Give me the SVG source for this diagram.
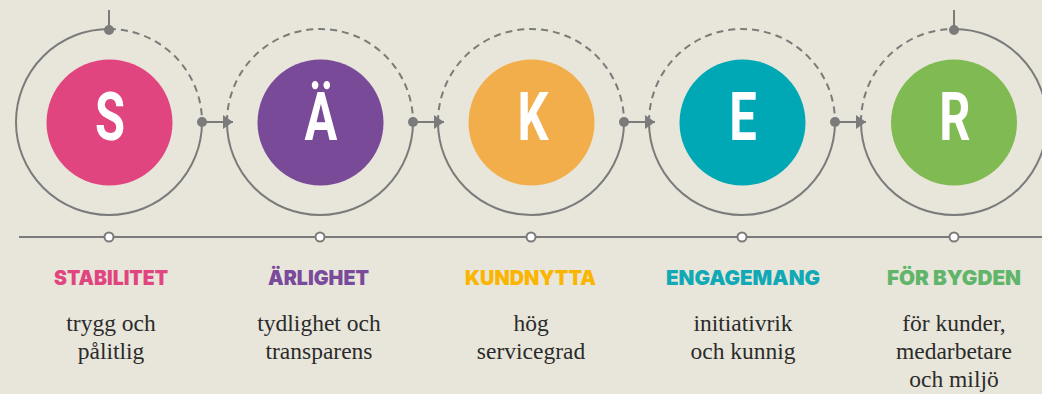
<svg xmlns="http://www.w3.org/2000/svg" width="1042" height="394" viewBox="0 0 1042 394">
<style>
.ring{fill:none;stroke:#7b7b7b;stroke-width:2}
.dash{fill:none;stroke:#7b7b7b;stroke-width:2;stroke-dasharray:7 5}
.dot{fill:#7b7b7b}
.tick{fill:#ffffff;stroke:#7b7b7b;stroke-width:2}
.letter{font-family:Roboto,"Liberation Sans",sans-serif;font-weight:700;font-size:66px;fill:#ffffff;text-anchor:middle}
.title{font-family:Inter,"Liberation Sans",sans-serif;font-weight:900;font-size:20.5px;text-anchor:middle}
.body{font-family:"Liberation Serif",serif;font-size:23.5px;fill:#2b2b2b;text-anchor:middle}
</style>
<defs>
<marker id="arr" viewBox="0 0 10 14" refX="10" refY="7" markerWidth="10" markerHeight="14" markerUnits="userSpaceOnUse" orient="auto"><path d="M0,0 L10,7 L0,14 Z" fill="#7b7b7b"/></marker>
</defs>
<rect width="1042" height="394" fill="#e8e6da"/>
<g id="connectors">
<line x1="109" y1="10" x2="109" y2="29" stroke="#7b7b7b" stroke-width="2"/>
<line x1="954" y1="10" x2="954" y2="29" stroke="#7b7b7b" stroke-width="2"/>
<path class="ring" d="M109,29 A93,93 0 1,0 202,122"/>
<path class="dash" d="M109,29 A93,93 0 0,1 202,122"/>
<path class="dash" d="M227,122 A93,93 0 0,1 413,122"/>
<path class="ring" d="M227,122 A93,93 0 0,0 413,122"/>
<path class="dash" d="M438,122 A93,93 0 0,1 624,122"/>
<path class="ring" d="M438,122 A93,93 0 0,0 624,122"/>
<path class="dash" d="M649,122 A93,93 0 0,1 835,122"/>
<path class="ring" d="M649,122 A93,93 0 0,0 835,122"/>
<path class="dash" d="M861,122 A93,93 0 0,1 954,29"/>
<path class="ring" d="M954,29 A93,93 0 1,1 861,122"/>
<circle class="dot" cx="109" cy="30" r="5"/>
<circle class="dot" cx="954" cy="30" r="5"/>
<g stroke="#7b7b7b" stroke-width="2" marker-end="url(#arr)">
<line x1="202" y1="122" x2="233" y2="122"/>
<line x1="413" y1="122" x2="444" y2="122"/>
<line x1="624" y1="122" x2="655" y2="122"/>
<line x1="835" y1="122" x2="866" y2="122"/>
</g>
<circle class="dot" cx="202" cy="122" r="5"/>
<circle class="dot" cx="413" cy="122" r="5"/>
<circle class="dot" cx="624" cy="122" r="5"/>
<circle class="dot" cx="835" cy="122" r="5"/>
<line x1="19" y1="237" x2="1042" y2="237" stroke="#7b7b7b" stroke-width="2.2"/>
<circle class="tick" cx="109" cy="237" r="4.5"/>
<circle class="tick" cx="320" cy="237" r="4.5"/>
<circle class="tick" cx="531" cy="237" r="4.5"/>
<circle class="tick" cx="742" cy="237" r="4.5"/>
<circle class="tick" cx="954" cy="237" r="4.5"/>
</g>
<g id="node-s">
<circle cx="109.5" cy="122.5" r="63" fill="#e0457f"/>
<text class="letter" transform="translate(110,140) scale(0.74,1)">S</text>
<text class="title" x="111" y="285" fill="#e0457f" textLength="114" lengthAdjust="spacingAndGlyphs">STABILITET</text>
<text class="body" x="111" y="331">trygg och</text>
<text class="body" x="111" y="359">pålitlig</text>
</g>
<g id="node-a">
<circle cx="320.5" cy="122.5" r="63" fill="#784a98"/>
<text class="letter" transform="translate(321,140) scale(0.74,1)">Ä</text>
<text class="title" x="318.5" y="285" fill="#7a4a9b" textLength="101" lengthAdjust="spacingAndGlyphs">ÄRLIGHET</text>
<text class="body" x="319" y="331">tydlighet och</text>
<text class="body" x="319" y="359">transparens</text>
</g>
<g id="node-k">
<circle cx="531.5" cy="122.5" r="63" fill="#f3ae4c"/>
<text class="letter" transform="translate(533,140) scale(0.74,1)">K</text>
<text class="title" x="530.5" y="285" fill="#fab500" textLength="131" lengthAdjust="spacingAndGlyphs">KUNDNYTTA</text>
<text class="body" x="531" y="331">hög</text>
<text class="body" x="531" y="359">servicegrad</text>
</g>
<g id="node-e">
<circle cx="742.5" cy="122.5" r="63" fill="#00a8b5"/>
<text class="letter" transform="translate(743,140) scale(0.74,1)">E</text>
<text class="title" x="743" y="285" fill="#10a9b5" textLength="154" lengthAdjust="spacingAndGlyphs">ENGAGEMANG</text>
<text class="body" x="743" y="331">initiativrik</text>
<text class="body" x="743" y="359">och kunnig</text>
</g>
<g id="node-r">
<circle cx="954" cy="122.5" r="63" fill="#80ba52"/>
<text class="letter" transform="translate(955,140) scale(0.74,1)">R</text>
<text class="title" x="954" y="285" fill="#61b56a" textLength="134" lengthAdjust="spacingAndGlyphs">FÖR BYGDEN</text>
<text class="body" x="954" y="331">för kunder,</text>
<text class="body" x="954" y="359">medarbetare</text>
<text class="body" x="954" y="387">och miljö</text>
</g>
</svg>
